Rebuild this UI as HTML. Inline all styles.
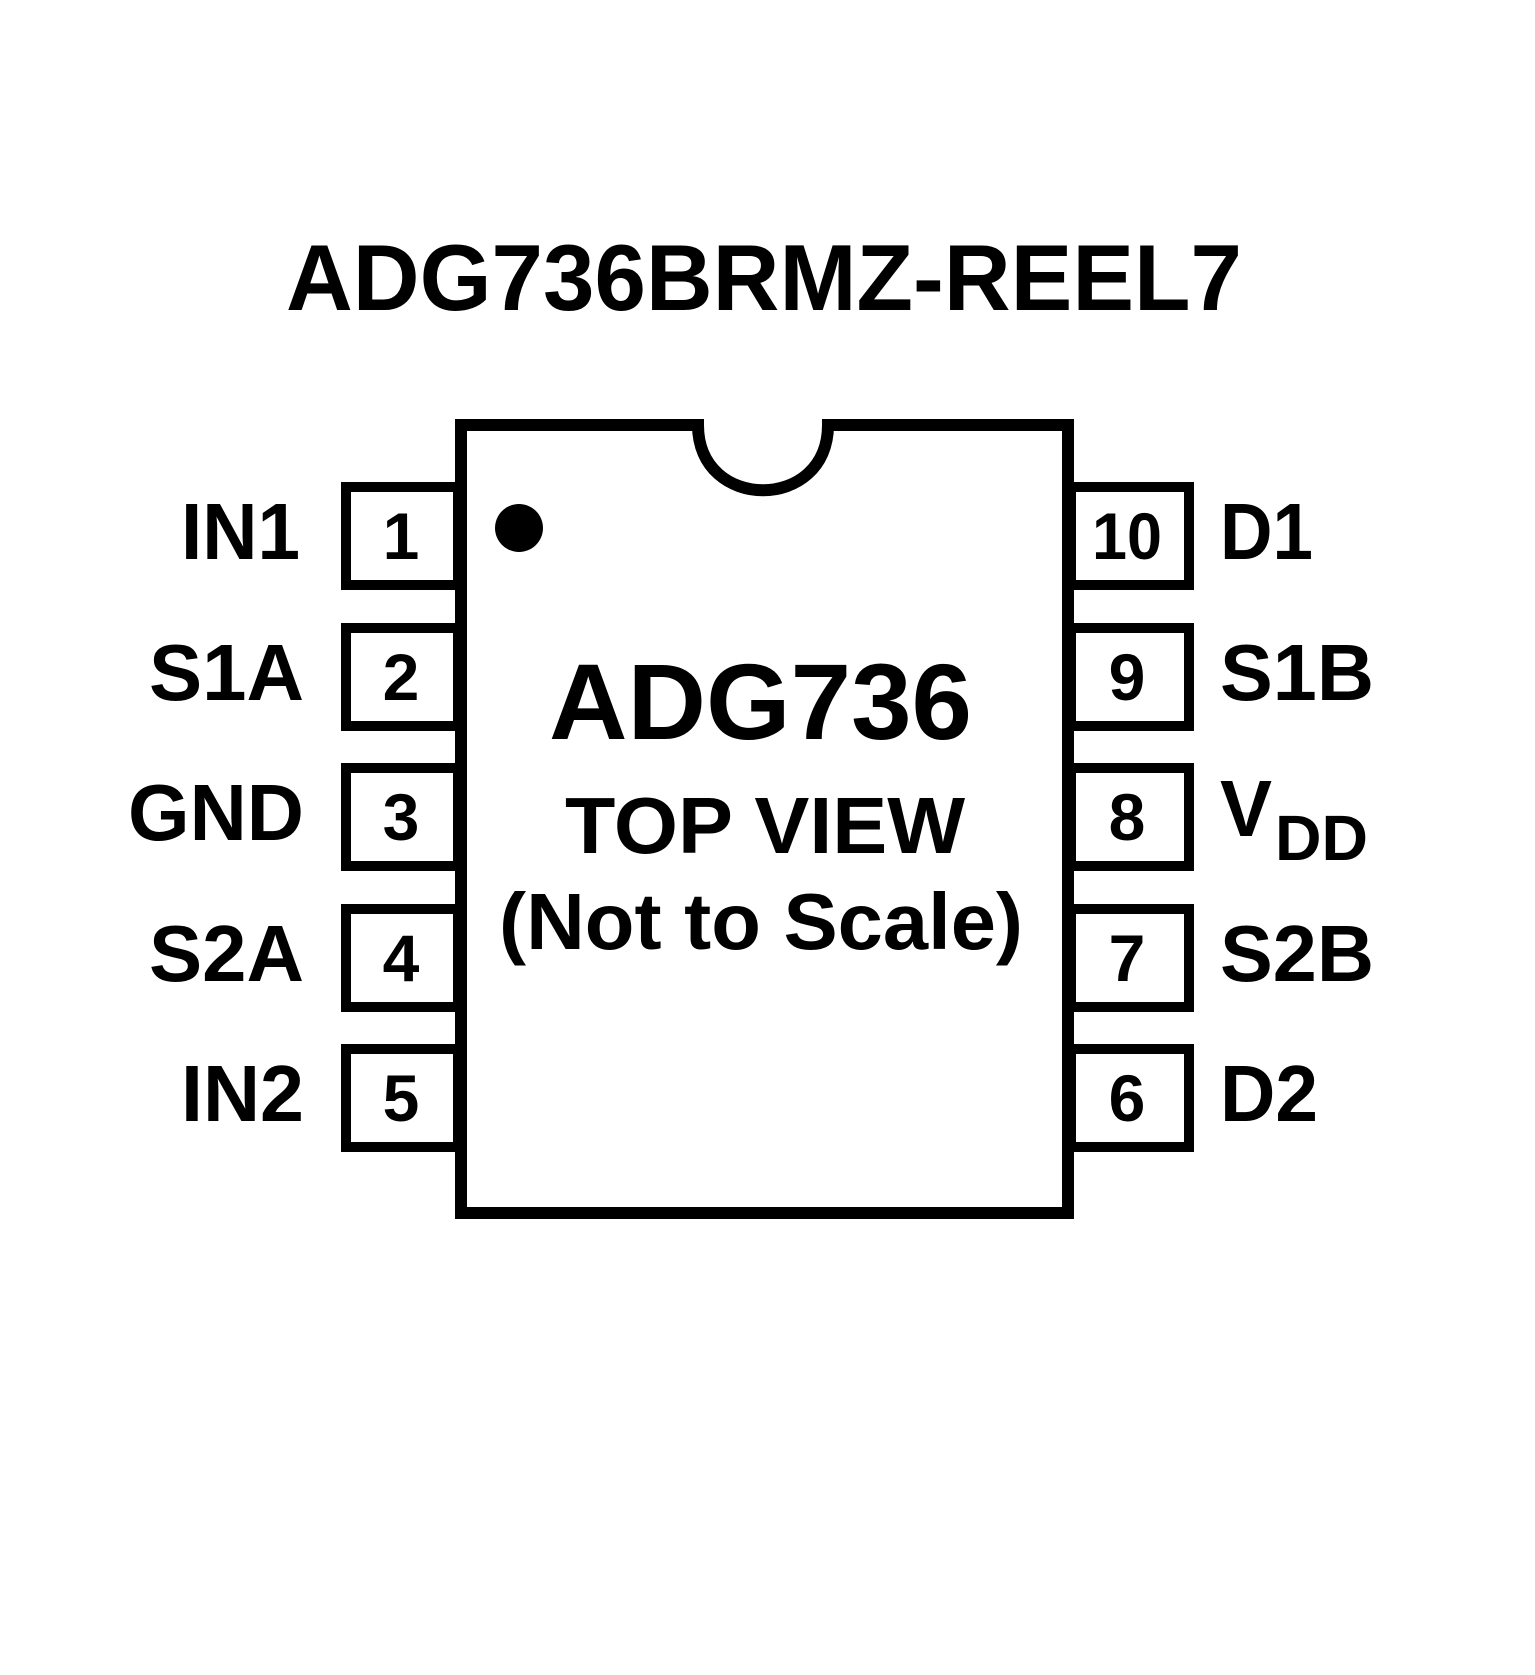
<!DOCTYPE html>
<html><head><meta charset="utf-8"><style>html,body{margin:0;padding:0;background:#fff}svg{display:block}</style></head>
<body>
<svg width="1535" height="1675" viewBox="0 0 1535 1675" xmlns="http://www.w3.org/2000/svg">
<rect width="1535" height="1675" fill="#fff"/>
<text x="286" y="310" font-family="Liberation Sans, sans-serif" font-weight="bold" font-size="94" textLength="956" lengthAdjust="spacingAndGlyphs">ADG736BRMZ-REEL7</text>
<g fill="#fff" stroke="#000" stroke-width="10">
<rect x="346" y="487" width="112" height="98"/>
<rect x="346" y="628" width="112" height="98"/>
<rect x="346" y="768" width="112" height="98"/>
<rect x="346" y="909" width="112" height="98"/>
<rect x="346" y="1049" width="112" height="98"/>
<rect x="1071" y="487" width="118" height="98"/>
<rect x="1071" y="628" width="118" height="98"/>
<rect x="1071" y="768" width="118" height="98"/>
<rect x="1071" y="909" width="118" height="98"/>
<rect x="1071" y="1049" width="118" height="98"/>
</g>
<path d="M461 425 H698 C698 512 828 512 828 425 H1068 V1213 H461 Z" fill="#fff" stroke="#000" stroke-width="12"/>
<circle cx="519" cy="528" r="24" fill="#000"/>
<g font-family="Liberation Sans, sans-serif" font-weight="bold" fill="#000">
<g font-size="66" text-anchor="middle">
<text x="401" y="559">1</text>
<text x="401" y="700">2</text>
<text x="401" y="840">3</text>
<text x="401" y="981">4</text>
<text x="401" y="1121">5</text>
<text x="1127" y="559" textLength="70" lengthAdjust="spacingAndGlyphs">10</text>
<text x="1127" y="700">9</text>
<text x="1127" y="840">8</text>
<text x="1127" y="981">7</text>
<text x="1127" y="1121">6</text>
</g>
<g font-size="80">
<text x="181" y="559" textLength="119" lengthAdjust="spacingAndGlyphs">IN1</text>
<text x="149" y="700" textLength="155" lengthAdjust="spacingAndGlyphs">S1A</text>
<text x="128" y="840" textLength="176" lengthAdjust="spacingAndGlyphs">GND</text>
<text x="149" y="981" textLength="155" lengthAdjust="spacingAndGlyphs">S2A</text>
<text x="181" y="1121" textLength="123" lengthAdjust="spacingAndGlyphs">IN2</text>
<text x="1220" y="559" textLength="93" lengthAdjust="spacingAndGlyphs">D1</text>
<text x="1220" y="700" textLength="154" lengthAdjust="spacingAndGlyphs">S1B</text>
<text x="1220" y="836" textLength="52" lengthAdjust="spacingAndGlyphs">V</text>
<text x="1275" y="860" font-size="64" textLength="93" lengthAdjust="spacingAndGlyphs">DD</text>
<text x="1220" y="981" textLength="154" lengthAdjust="spacingAndGlyphs">S2B</text>
<text x="1220" y="1121" textLength="98" lengthAdjust="spacingAndGlyphs">D2</text>
</g>
<text x="549" y="739" font-size="108" textLength="423" lengthAdjust="spacingAndGlyphs">ADG736</text>
<text x="565" y="853" font-size="80" textLength="400" lengthAdjust="spacingAndGlyphs">TOP VIEW</text>
<text x="499" y="949" font-size="80" textLength="524" lengthAdjust="spacingAndGlyphs">(Not to Scale)</text>
</g>
</svg>
</body></html>
